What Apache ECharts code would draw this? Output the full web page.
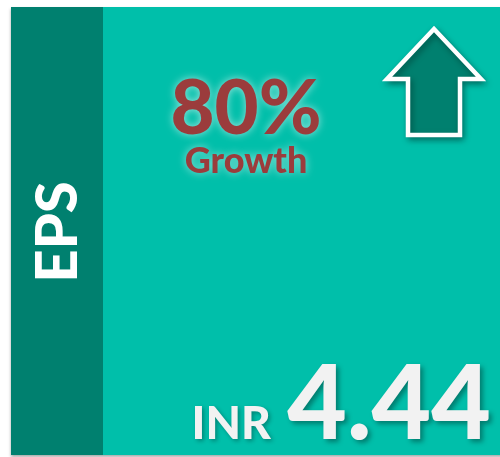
<!DOCTYPE html>
<html>
<head>
<meta charset="utf-8">
<style>
  html, body { margin: 0; padding: 0; background: #fff; }
  #main { width: 500px; height: 457px; }
</style>
<script src="https://cdn.jsdelivr.net/npm/echarts@6/dist/echarts.min.js"></script>
</head>
<body>
<div id="main"></div>
<script>
// KPI tile values
const metric = ['EPS']
const growthPct = [80]
const growthLabel = ['Growth']
const currency = ['INR']
const epsValue = [4.44]

const darkTeal = '#00806F'
const lightTeal = '#00BFAA'
const fontFamily = 'Lato'

function label(text, x, y, size, fill, extra) {
  return {
    type: 'text',
    x: x,
    y: y,
    style: Object.assign({
      text: text,
      fontFamily: fontFamily,
      fontWeight: 900,
      fontSize: size,
      fill: fill,
      align: 'center',
      verticalAlign: 'middle'
    }, extra || {})
  }
}

const chart = echarts.init(document.getElementById('main'))

const glow = { textShadowBlur: 8, textShadowColor: 'rgba(255,255,255,0.6)' }

chart.setOption({
  backgroundColor: '#fff',
  graphic: [
    // tile body with soft shadow
    {
      type: 'rect',
      shape: { x: 11, y: 7, width: 500, height: 448 },
      style: { fill: lightTeal, shadowBlur: 3, shadowOffsetY: 2, shadowColor: 'rgba(0,0,0,0.35)' }
    },
    // left band
    {
      type: 'rect',
      shape: { x: 11, y: 7, width: 92, height: 448 },
      style: { fill: darkTeal }
    },
    Object.assign(label(metric[0], 58, 232, 58, '#fff'), { rotation: Math.PI / 2 }),
    // up arrow
    {
      type: 'polygon',
      shape: {
        points: [[434, 29], [481, 79], [460, 79], [460, 135], [408, 135], [408, 79], [387, 79]]
      },
      style: {
        fill: darkTeal,
        stroke: '#fff',
        lineWidth: 4.5,
        lineJoin: 'miter',
        shadowBlur: 6,
        shadowOffsetX: 2,
        shadowOffsetY: 3,
        shadowColor: 'rgba(0,0,0,0.35)'
      }
    },
    // growth figure
    label(growthPct[0] + '%', 246, 109, 76, '#9B3C3C', glow),
    label(growthLabel[0], 246, 161, 36, '#9B3C3C', glow),
    // value
    label(currency[0], 271, 424, 46, '#F2F2F2', {
      align: 'right',
      textShadowBlur: 4, textShadowOffsetX: 2, textShadowOffsetY: 2, textShadowColor: 'rgba(0,0,0,0.3)'
    }),
    label(epsValue[0].toFixed(2), 491, 406, 103, '#F2F2F2', {
      align: 'right',
      textShadowBlur: 5, textShadowOffsetX: 3, textShadowOffsetY: 3, textShadowColor: 'rgba(0,0,0,0.35)'
    })
  ]
})
</script>
</body>
</html>
